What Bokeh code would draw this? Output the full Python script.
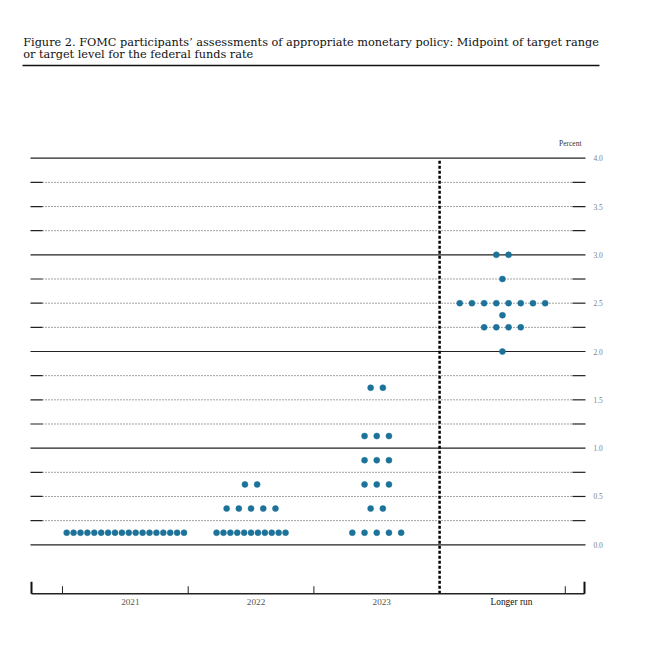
import numpy as np
from bokeh.plotting import figure
from bokeh.models import Range1d
from bokeh.core.properties import value
from bokeh.embed import file_html
from bokeh.resources import INLINE

# ---------------- data ----------------
title_lines = [
    "Figure 2.  FOMC participants\u2019 assessments of appropriate monetary policy:  Midpoint of target range",
    "or target level for the federal funds rate",
]
categories = ["2021", "2022", "2023", "Longer run"]
levels_2021 = [0.125]
counts_2021 = [18]
levels_2022 = [0.125, 0.375, 0.625]
counts_2022 = [11, 5, 2]
levels_2023 = [0.125, 0.375, 0.625, 0.875, 1.125, 1.625]
counts_2023 = [5, 2, 3, 3, 3, 2]
levels_lr = [2.0, 2.25, 2.375, 2.5, 2.75, 3.0]
counts_lr = [1, 4, 1, 8, 1, 2]
major_levels = [0.0, 1.0, 2.0, 3.0, 4.0]
minor_levels = [0.25, 0.5, 0.75, 1.25, 1.5, 1.75, 2.25, 2.5, 2.75, 3.25, 3.5, 3.75]
tick_values = [0.0, 0.5, 1.0, 1.5, 2.0, 2.5, 3.0, 3.5, 4.0]
tick_labels = ["0.0", "0.5", "1.0", "1.5", "2.0", "2.5", "3.0", "3.5", "4.0"]
unit_label = "Percent"

# ---------------- layout constants ----------------
X_LEFT, X_RIGHT = -0.7546, 3.6607
X_LTICK, X_RTICK = -0.659, 3.557
AX_L, AX_R = -0.7466, 3.6527
AX_Y = -0.507
DOT = "#1C7298"
SERIF = value("Liberation Serif")
TSERIF = value("DejaVu Serif")

p = figure(width=635, height=655,
           x_range=Range1d(-0.9932, 4.0585), y_range=Range1d(-1.1454, 5.6317),
           min_border=0, toolbar_location=None, output_backend="svg",
           x_axis_location=None, y_axis_location=None)
p.grid.visible = False
p.outline_line_color = None
p.background_fill_color = "white"
p.border_fill_color = "white"

# title
p.text(x=[-0.8127], y=[5.200], text=[title_lines[0]], text_font=TSERIF,
       text_font_size="11.3px", text_color="#111111", text_baseline="alphabetic")
p.text(x=[-0.8127], y=[5.078], text=[title_lines[1]], text_font=TSERIF,
       text_font_size="11.3px", text_color="#111111", text_baseline="alphabetic")
p.segment(x0=[-0.818], x1=[3.772], y0=[4.959], y1=[4.959], line_color="#111111", line_width=1.6)

# horizontal reference lines
n_maj = len(major_levels)
p.segment(x0=[X_LEFT] * n_maj, x1=[X_RIGHT] * n_maj, y0=major_levels, y1=major_levels,
          line_color="#222222", line_width=1.2)
n_min = len(minor_levels)
p.segment(x0=[X_LTICK] * n_min, x1=[X_RTICK] * n_min, y0=minor_levels, y1=minor_levels,
          line_color="#444444", line_width=1, line_dash="1 2")
p.segment(x0=[X_LEFT] * n_min, x1=[X_LTICK] * n_min, y0=minor_levels, y1=minor_levels,
          line_color="#222222", line_width=1.2)
p.segment(x0=[X_RTICK] * n_min, x1=[X_RIGHT] * n_min, y0=minor_levels, y1=minor_levels,
          line_color="#222222", line_width=1.2)

# right labels
p.text(x=[3.7243] * len(tick_values), y=tick_values, text=tick_labels, text_font=SERIF,
       text_font_size="7.5px", text_color="#808080", text_baseline="middle", text_align="left")
p.text(x=[3.629], y=[4.155], text=[unit_label], text_font=SERIF,
       text_font_size="7.5px", text_color="#333333", text_baseline="middle", text_align="right")

# vertical dashed divider
p.segment(x0=[2.5], x1=[2.5], y0=[AX_Y], y1=[3.99], line_color="black",
          line_width=2.5, line_dash="3 2")

# bottom axis
p.segment(x0=[AX_L], x1=[AX_R], y0=[AX_Y], y1=[AX_Y], line_color="#222222", line_width=1.6)
p.segment(x0=[AX_L, AX_R], x1=[AX_L, AX_R], y0=[AX_Y] * 2, y1=[AX_Y + 0.125] * 2,
          line_color="#111111", line_width=2)
inner = [-0.5, 0.5, 1.5, 3.5]
p.segment(x0=inner, x1=inner, y0=[AX_Y] * 4, y1=[AX_Y + 0.078] * 4,
          line_color="#222222", line_width=1)
p.text(x=[0, 1, 2], y=[-0.597] * 3, text=categories[:3], text_font=SERIF,
       text_font_size="9.2px", text_color="#555555", text_baseline="middle",
       text_align="center", x_offset=5)
p.text(x=[3], y=[-0.597], text=categories[3:], text_font=SERIF,
       text_font_size="9.4px", text_color="#111111", text_baseline="middle",
       text_align="center", x_offset=9)

# dots
xs, ys = [], []
groups = [(levels_2021, counts_2021), (levels_2022, counts_2022),
          (levels_2023, counts_2023), (levels_lr, counts_lr)]
for gi, (lv, ct) in enumerate(groups):
    for level, n in zip(lv, ct):
        spacing = 0.0971 if n <= 8 else 0.0549
        offs = (np.arange(n) - (n - 1) / 2.0) * spacing
        xs.extend(list(gi + offs))
        ys.extend([level] * n)
p.scatter(x=xs, y=ys, size=6, fill_color=DOT, line_color=DOT, line_width=0.5)

open("out.html", "w").write(file_html(p, INLINE))
